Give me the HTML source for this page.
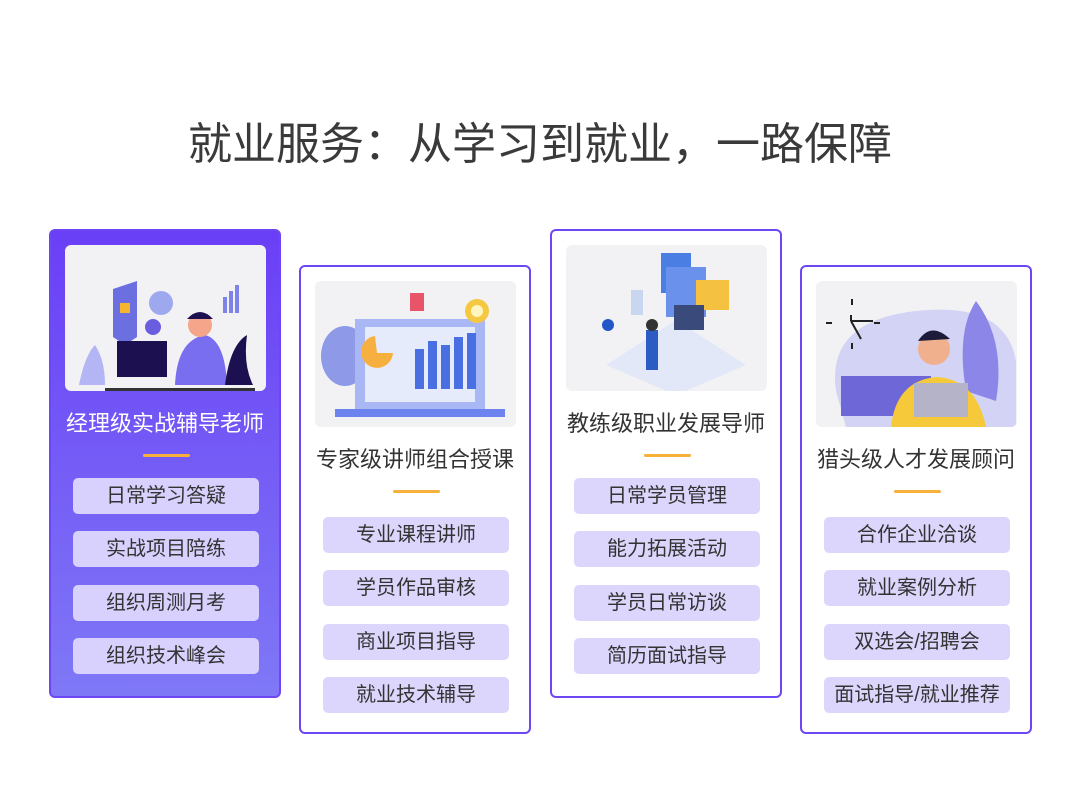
<!DOCTYPE html>
<html><head><meta charset="utf-8"><style>
*{margin:0;padding:0;box-sizing:border-box}
body{width:1080px;height:788px;background:#fff;position:relative;overflow:hidden;font-family:"Liberation Sans","Noto Sans CJK SC",sans-serif;color:#333}
.t{position:absolute;left:0;width:1080px;top:113px;text-align:center;font-size:44px;letter-spacing:0;color:#3a3a3a;line-height:64px}
.card{position:absolute;width:232px;height:469px;border:2px solid #6d47f4;border-radius:6px;background:#fff}
.card.a{background:linear-gradient(#6a3ff6,#7f78f6)}
.img{position:absolute;left:14px;top:14px;width:201px;height:146px;background:#f2f2f4;border-radius:6px;overflow:hidden}
.h{position:absolute;left:0;width:100%;top:178px;text-align:center;font-size:22px;color:#333;line-height:30px;white-space:nowrap}
.a .h{color:#fff}
.u{position:absolute;left:92px;top:223px;width:47px;height:3px;background:#f7b13a;border-radius:2px}
.p{position:absolute;left:22px;width:186px;height:36px;background:#dcd6fc;border-radius:5px;text-align:center;line-height:36px;font-size:20px;color:#333;white-space:nowrap}
.a .p{background:#d8d0fd}
</style></head><body>
<div class="t">就业服务：从学习到就业，一路保障</div>

<div class="card a" style="left:49px;top:229px">
 <div class="img"><svg width="201" height="146">
  <circle cx="96" cy="58" r="12" fill="#9ea8ee"/><circle cx="88" cy="82" r="8" fill="#6a5de0"/>
  <path d="M48 44 L72 36 L72 92 L60 100 L48 92Z" fill="#6c6fe0"/><rect x="55" y="58" width="10" height="10" fill="#f5b52e"/>
  <rect x="52" y="96" width="50" height="36" fill="#1c1050"/>
  <path d="M110 140 Q112 95 140 90 Q160 95 162 140Z" fill="#7a6ef0"/><circle cx="135" cy="80" r="12" fill="#f5a58a"/><path d="M122 74 Q135 60 148 74Z" fill="#1c1050"/>
  <path d="M160 140 Q165 100 182 90 Q178 120 188 140Z" fill="#1c1050"/>
  <path d="M14 140 Q20 110 30 100 Q40 115 40 140Z" fill="#b3b5f5"/>
  <rect x="158" y="52" width="4" height="16" fill="#7d83e8"/><rect x="164" y="46" width="4" height="22" fill="#7d83e8"/><rect x="170" y="40" width="4" height="28" fill="#7d83e8"/>
  <rect x="40" y="143" width="150" height="3" fill="#333"/></svg></div>
 <div class="h">经理级实战辅导老师</div><div class="u"></div>
 <div class="p" style="top:247px">日常学习答疑</div>
 <div class="p" style="top:300px">实战项目陪练</div>
 <div class="p" style="top:354px">组织周测月考</div>
 <div class="p" style="top:407px">组织技术峰会</div>
</div>

<div class="card" style="left:299px;top:265px">
 <div class="img" style="height:146px"><svg width="201" height="146">
  <ellipse cx="30" cy="75" rx="24" ry="30" fill="#8e9ae8"/>
  <rect x="40" y="38" width="130" height="90" fill="#a9b8f5"/><rect x="50" y="46" width="110" height="75" fill="#e6ebfb"/>
  <path d="M60 55 A16 16 0 1 0 78 72 L62 72Z" fill="#f5b040"/>
  <rect x="100" y="68" width="9" height="40" fill="#4a6fe3"/><rect x="113" y="60" width="9" height="48" fill="#4a6fe3"/><rect x="126" y="64" width="9" height="44" fill="#4a6fe3"/><rect x="139" y="56" width="9" height="52" fill="#4a6fe3"/><rect x="152" y="52" width="9" height="56" fill="#4a6fe3"/>
  <circle cx="162" cy="30" r="12" fill="#f5c842"/><circle cx="162" cy="30" r="6" fill="#fff5c0"/>
  <rect x="95" y="12" width="14" height="18" fill="#e8556a"/>
  <rect x="20" y="128" width="170" height="8" fill="#6d83ee"/></svg></div>
 <div class="h">专家级讲师组合授课</div><div class="u"></div>
 <div class="p" style="top:250px">专业课程讲师</div>
 <div class="p" style="top:303px">学员作品审核</div>
 <div class="p" style="top:357px">商业项目指导</div>
 <div class="p" style="top:410px">就业技术辅导</div>
</div>

<div class="card" style="left:550px;top:229px">
 <div class="img"><svg width="201" height="146">
  <path d="M40 120 L110 75 L180 120 L110 150Z" fill="#e2e8f8"/>
  <rect x="95" y="8" width="30" height="40" fill="#4a7ee3"/><rect x="100" y="22" width="40" height="50" fill="#6a92ec"/>
  <rect x="130" y="35" width="33" height="30" fill="#f5c140"/><rect x="108" y="60" width="30" height="25" fill="#3a4a7a"/>
  <circle cx="42" cy="80" r="6" fill="#2356c9"/>
  <rect x="80" y="85" width="12" height="40" fill="#2d5bc4"/><circle cx="86" cy="80" r="6" fill="#333"/>
  <rect x="65" y="45" width="12" height="25" fill="#c8d6f0"/></svg></div>
 <div class="h">教练级职业发展导师</div><div class="u"></div>
 <div class="p" style="top:247px">日常学员管理</div>
 <div class="p" style="top:300px">能力拓展活动</div>
 <div class="p" style="top:354px">学员日常访谈</div>
 <div class="p" style="top:407px">简历面试指导</div>
</div>

<div class="card" style="left:800px;top:265px">
 <div class="img"><svg width="201" height="146">
  <path d="M20 110 Q10 40 100 30 Q190 20 200 80 L200 146 L30 146Z" fill="#d3d3f5"/>
  <path d="M150 110 Q140 50 160 20 Q190 60 180 120Z" fill="#8b86e8"/>
  <rect x="25" y="95" width="90" height="40" fill="#6d67d8"/>
  <path d="M75 146 Q80 100 120 96 Q160 98 170 146Z" fill="#f5c93a"/>
  <circle cx="118" cy="68" r="16" fill="#f0b08e"/><path d="M102 60 Q115 40 134 58Z" fill="#1c1c3a"/>
  <rect x="98" y="102" width="54" height="34" fill="#b5b3c8"/>
  <g stroke="#222" stroke-width="2"><line x1="35" y1="40" x2="35" y2="34"/><line x1="35" y1="40" x2="57" y2="40"/><line x1="35" y1="40" x2="45" y2="58"/><line x1="10" y1="42" x2="16" y2="42"/><line x1="58" y1="42" x2="64" y2="42"/><line x1="36" y1="18" x2="36" y2="24"/><line x1="36" y1="62" x2="36" y2="68"/></g></svg></div>
 <div class="h">猎头级人才发展顾问</div><div class="u"></div>
 <div class="p" style="top:250px">合作企业洽谈</div>
 <div class="p" style="top:303px">就业案例分析</div>
 <div class="p" style="top:357px">双选会/招聘会</div>
 <div class="p" style="top:410px">面试指导/就业推荐</div>
</div>
</body></html>
